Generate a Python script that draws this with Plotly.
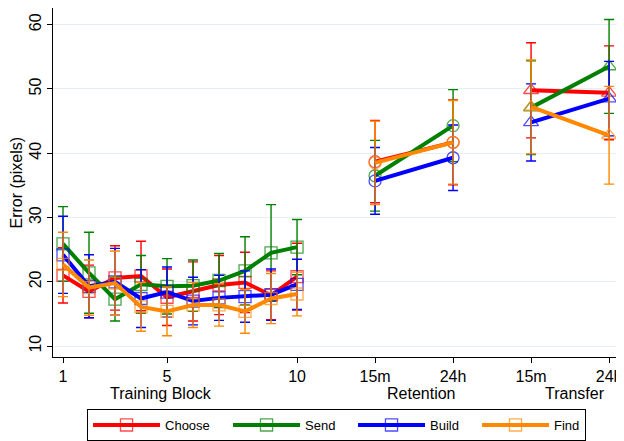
import plotly.graph_objects as go

# ---------------- data ----------------
train_x = list(range(1, 11))
ret_x = [13, 16]
trans_x = [19, 22]
tick_vals = [1, 5, 10, 13, 16, 19, 22]
tick_text = ["1", "5", "10", "15m", "24h", "15m", "24h"]

series_names = ["Choose", "Send", "Build", "Find"]
colors = ["#FF0000", "#008000", "#0000FF", "#FF8800"]

choose_train = [21.0, 18.5, 20.6, 20.9, 17.6, 18.5, 19.5, 19.9, 17.9, 20.8]
choose_train_err = [4.3, 4.1, 5.0, 5.4, 4.4, 4.6, 4.6, 4.7, 3.8, 5.2]
choose_ret = [38.7, 41.7]
choose_ret_err = [6.4, 6.6]
choose_trans = [49.8, 49.4]
choose_trans_err = [7.4, 7.3]

send_train = [25.9, 21.4, 17.3, 19.6, 19.3, 19.4, 20.2, 21.7, 24.5, 25.4]
send_train_err = [5.8, 6.3, 3.4, 4.5, 4.3, 4.0, 4.2, 5.3, 7.5, 4.3]
send_ret = [36.5, 44.3]
send_ret_err = [5.5, 5.6]
send_trans = [47.1, 53.5]
send_trans_err = [7.3, 7.3]

build_train = [24.2, 19.3, 20.0, 17.4, 18.4, 17.0, 17.5, 17.7, 18.0, 19.6]
build_train_err = [6.0, 4.9, 5.2, 4.5, 3.9, 3.7, 3.5, 4.0, 4.0, 3.9]
build_ret = [35.7, 39.3]
build_ret_err = [5.2, 5.1]
build_trans = [44.8, 48.5]
build_trans_err = [6.0, 5.8]

find_train = [22.7, 19.1, 19.8, 16.1, 15.4, 16.4, 16.4, 15.4, 17.4, 18.1]
find_train_err = [5.0, 4.3, 5.0, 3.8, 3.8, 3.5, 3.3, 3.4, 3.9, 3.4]
find_ret = [38.5, 41.7]
find_ret_err = [6.5, 6.5]
find_trans = [47.2, 42.8]
find_trans_err = [7.3, 7.6]

group_labels = ["Training Block", "Retention", "Transfer"]
group_label_x = [4.75, 14.8, 20.7]
y_title = "Error (pixels)"

# ---------------- figure ----------------
all_series = [
    (choose_train, choose_train_err, choose_ret, choose_ret_err, choose_trans, choose_trans_err),
    (send_train, send_train_err, send_ret, send_ret_err, send_trans, send_trans_err),
    (build_train, build_train_err, build_ret, build_ret_err, build_trans, build_trans_err),
    (find_train, find_train_err, find_ret, find_ret_err, find_trans, find_trans_err),
]
legend_widths = [58, 43, 42, 26]

x_all = train_x + [None] + ret_x + [None] + trans_x
symbols = (["square-open"] * 10 + ["square-open"] + ["circle-open"] * 2
           + ["circle-open"] + ["triangle-up-open"] * 2)
sizes = [12] * 11 + [12] * 3 + [13] * 2

fig = go.Figure()
for name, col, lw, (tr, tre, re, ree, tf, tfe) in zip(series_names, colors, legend_widths, all_series):
    y_all = tr + [None] + re + [None] + tf
    e_all = tre + [0] + ree + [0] + tfe
    fig.add_trace(go.Scatter(
        x=x_all, y=y_all, name=name, mode="lines+markers",
        connectgaps=False, legendwidth=lw,
        line=dict(color=col, width=4),
        marker=dict(symbol=symbols, size=sizes, color=col,
                    line=dict(color=col, width=1.3)),
        error_y=dict(type="data", array=e_all, visible=True,
                     color=col, thickness=1.4, width=5),
    ))

for lbl, lx in zip(group_labels, group_label_x):
    fig.add_annotation(x=lx, xref="x", y=-0.106, yref="paper",
                       text=lbl, showarrow=False, yanchor="middle",
                       font=dict(size=16, color="black"))

fig.add_annotation(x=-0.0635, xref="paper", y=0.5, yref="paper",
                   text=y_title, textangle=-90, showarrow=False,
                   xanchor="center", yanchor="middle",
                   font=dict(size=16, color="black"))

# the page body adds an 8px offset, so the figure is drawn 8px smaller
fig.update_layout(
    width=616, height=433,
    margin=dict(l=45, r=4, t=0, b=84, autoexpand=False),
    paper_bgcolor="white", plot_bgcolor="white",
    font=dict(family="Liberation Sans, Arial, sans-serif", size=16, color="black"),
    showlegend=True,
    legend=dict(orientation="h", x=0.06, xanchor="left", y=-0.149, yanchor="top",
                bordercolor="black", borderwidth=1, bgcolor="white",
                font=dict(size=13), itemwidth=67, traceorder="normal"),
)
fig.update_xaxes(range=[0.615, 22.42], tickmode="array", tickvals=tick_vals,
                 ticktext=tick_text, showgrid=False, zeroline=False,
                 showline=True, linecolor="black", linewidth=1,
                 ticks="outside", ticklen=5, tickcolor="black",
                 tickfont=dict(size=16), automargin=False,
                 ticklabeloverflow="allow")
fig.update_yaxes(range=[8.3, 62.6], tickvals=[10, 20, 30, 40, 50, 60],
                 showgrid=True, gridcolor="#E6EFF1", gridwidth=1,
                 zeroline=False, showline=True, linecolor="black", linewidth=1,
                 ticks="outside", ticklen=5, tickcolor="black",
                 tickangle=-90, tickfont=dict(size=16), automargin=False)

fig.write_html("out.html")
